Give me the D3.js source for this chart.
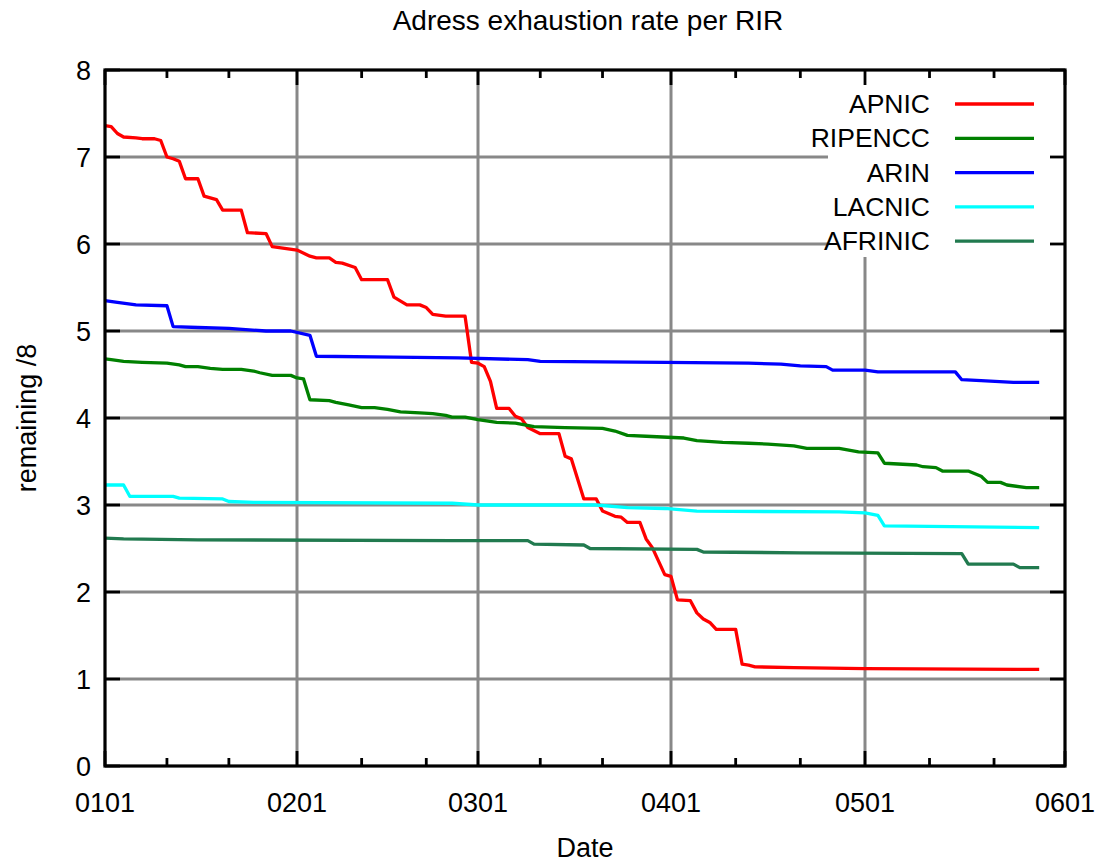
<!DOCTYPE html>
<html>
<head>
<meta charset="utf-8">
<script src="https://cdn.jsdelivr.net/npm/d3@7"></script>
<style>
  body { margin: 0; background: #fff; }
  text { font-family: "Liberation Sans", Arial, sans-serif; fill: #000; }
</style>
</head>
<body>
<div id="chart"></div>
<script>
// remaining /8 blocks per RIR (date MMDD, value)
var apnic = [
  ["0101",7.36],["0102",7.35],["0103",7.27],["0104",7.23],["0106",7.22],["0107",7.21],["0109",7.21],["0110",7.19],
  ["0111",7.00],["0112",6.98],["0113",6.95],["0114",6.75],["0116",6.75],["0117",6.55],["0119",6.51],["0120",6.39],
  ["0123",6.39],["0124",6.13],["0127",6.12],["0128",5.97],["0130",5.95],["0201",5.93],["0203",5.86],["0204",5.84],
  ["0206",5.84],["0207",5.79],["0208",5.78],["0210",5.73],["0211",5.59],["0215",5.59],["0216",5.39],["0218",5.30],
  ["0220",5.30],["0221",5.27],["0222",5.19],["0224",5.17],["0227",5.17],["0228",4.64],["0301",4.63],["0302",4.59],
  ["0303",4.42],["0304",4.11],["0306",4.11],["0307",4.02],["0308",3.99],["0309",3.89],["0311",3.82],["0314",3.82],
  ["0315",3.56],["0316",3.53],["0318",3.07],["0320",3.07],["0321",2.93],["0323",2.87],["0324",2.86],["0325",2.80],
  ["0327",2.80],["0328",2.61],["0329",2.51],["0331",2.20],["0401",2.18],["0402",1.91],["0404",1.90],["0405",1.76],
  ["0406",1.69],["0407",1.65],["0408",1.57],["0411",1.57],["0412",1.17],["0413",1.16],["0414",1.14],["0420",1.13],
  ["0501",1.12],["0528",1.11]
];
var ripencc = [
  ["0101",4.68],["0102",4.67],["0104",4.65],["0107",4.64],["0111",4.63],["0113",4.61],["0114",4.59],["0116",4.59],
  ["0118",4.57],["0120",4.56],["0123",4.56],["0125",4.54],["0126",4.52],["0128",4.49],["0131",4.49],["0201",4.46],
  ["0202",4.45],["0203",4.21],["0206",4.20],["0207",4.18],["0209",4.15],["0211",4.12],["0213",4.12],["0215",4.10],
  ["0217",4.07],["0220",4.06],["0222",4.05],["0224",4.03],["0225",4.01],["0227",4.01],["0301",3.98],["0304",3.95],
  ["0307",3.94],["0310",3.90],["0315",3.89],["0321",3.88],["0323",3.85],["0325",3.80],["0328",3.79],["0403",3.77],
  ["0405",3.74],["0409",3.72],["0413",3.71],["0416",3.70],["0420",3.68],["0422",3.65],["0427",3.65],["0430",3.61],
  ["0503",3.60],["0504",3.48],["0509",3.46],["0510",3.44],["0512",3.43],["0513",3.39],["0517",3.39],["0519",3.33],
  ["0520",3.26],["0522",3.26],["0523",3.23],["0526",3.20],["0528",3.20]
];
var arin = [
  ["0101",5.35],["0103",5.33],["0106",5.30],["0111",5.29],["0112",5.05],["0116",5.04],["0121",5.03],["0127",5.00],
  ["0131",5.00],["0203",4.95],["0204",4.71],["0216",4.70],["0226",4.69],["0309",4.67],["0311",4.65],["0331",4.64],
  ["0413",4.63],["0418",4.62],["0421",4.60],["0425",4.59],["0426",4.55],["0501",4.55],["0503",4.53],["0515",4.53],
  ["0516",4.44],["0519",4.43],["0524",4.41],["0528",4.41]
];
var lacnic = [
  ["0101",3.23],["0104",3.23],["0105",3.10],["0112",3.10],["0113",3.08],["0120",3.07],["0121",3.04],["0125",3.03],
  ["0225",3.02],["0301",3.00],["0320",3.00],["0325",2.97],["0331",2.96],["0405",2.93],["0427",2.92],["0501",2.91],
  ["0503",2.88],["0504",2.76],["0528",2.74]
];
var afrinic = [
  ["0101",2.62],["0104",2.61],["0116",2.60],["0225",2.59],["0309",2.59],["0310",2.55],["0318",2.54],["0319",2.50],
  ["0405",2.49],["0406",2.46],["0421",2.45],["0516",2.44],["0517",2.32],["0524",2.32],["0525",2.28],["0528",2.28]
];

var seriesNames = ["APNIC", "RIPENCC", "ARIN", "LACNIC", "AFRINIC"];
var seriesData = [apnic, ripencc, arin, lacnic, afrinic];
var seriesColors = ["#ff0000", "#008000", "#0000ff", "#00ffff", "#217a4f"];

var monthTicks = ["0101", "0201", "0301", "0401", "0501", "0601"];
var yTicks = [0, 1, 2, 3, 4, 5, 6, 7, 8];
var titleText = "Adress exhaustion rate per RIR";
var xLabel = "Date";
var yLabel = "remaining /8";

var parseDay = function(s) { return d3.timeParse("%Y%m%d")("2011" + s); };
var fmt = d3.timeFormat("%m%d");

var W = 1100, H = 864;
var plotL = 105, plotR = 1065, plotT = 70, plotB = 766;

var svg = d3.select("#chart").append("svg")
  .attr("width", W).attr("height", H);

svg.append("rect").attr("width", W).attr("height", H).attr("fill", "#fff");

var monthDates = monthTicks.map(parseDay);
// gnuplot places month ticks slightly unevenly, so use a piecewise time scale
var x = d3.scaleTime()
  .domain(monthDates)
  .range([plotL, 297, 478, 671, 865, plotR]);
var y = d3.scaleLinear().domain([0, 8]).range([plotB, plotT]);

// minor ticks: 11th and 21st of each month
var minorDates = [];
monthDates.slice(0, -1).forEach(function(d) {
  minorDates.push(d3.timeDay.offset(d, 10));
  minorDates.push(d3.timeDay.offset(d, 20));
});

// grid
var grid = svg.append("g").attr("stroke", "#888").attr("stroke-width", 3);
grid.selectAll(".vg").data(monthDates.slice(1, -1)).enter().append("line")
  .attr("x1", function(d) { return x(d); }).attr("x2", function(d) { return x(d); })
  .attr("y1", plotT).attr("y2", plotB);
grid.selectAll(".hg").data(yTicks.slice(1, -1)).enter().append("line")
  .attr("y1", function(d) { return y(d); }).attr("y2", function(d) { return y(d); })
  .attr("x1", plotL).attr("x2", plotR);

// key background hides the grid
svg.append("rect")
  .attr("x", 828).attr("y", plotT).attr("width", plotR - 828).attr("height", 257 - plotT)
  .attr("fill", "#fff");

// series
var line = d3.line()
  .x(function(d) { return x(parseDay(d[0])); })
  .y(function(d) { return y(d[1]); });

seriesData.forEach(function(s, i) {
  svg.append("path")
    .datum(s)
    .attr("d", line)
    .attr("fill", "none")
    .attr("stroke", seriesColors[i])
    .attr("stroke-width", 3.3)
    .attr("stroke-linejoin", "round");
});

// ticks (inward, mirrored)
var ticks = svg.append("g").attr("stroke", "#000").attr("stroke-width", 2.8);
var majorLen = 15, minorLen = 8;
ticks.selectAll(".xb").data(monthDates).enter().append("line")
  .attr("x1", function(d) { return x(d); }).attr("x2", function(d) { return x(d); })
  .attr("y1", plotB).attr("y2", plotB - majorLen);
ticks.selectAll(".xt").data(monthDates).enter().append("line")
  .attr("x1", function(d) { return x(d); }).attr("x2", function(d) { return x(d); })
  .attr("y1", plotT).attr("y2", plotT + majorLen);
ticks.selectAll(".mb").data(minorDates).enter().append("line")
  .attr("x1", function(d) { return x(d); }).attr("x2", function(d) { return x(d); })
  .attr("y1", plotB).attr("y2", plotB - minorLen);
ticks.selectAll(".mt").data(minorDates).enter().append("line")
  .attr("x1", function(d) { return x(d); }).attr("x2", function(d) { return x(d); })
  .attr("y1", plotT).attr("y2", plotT + minorLen);
ticks.selectAll(".yl").data(yTicks).enter().append("line")
  .attr("y1", function(d) { return y(d); }).attr("y2", function(d) { return y(d); })
  .attr("x1", plotL).attr("x2", plotL + majorLen);
ticks.selectAll(".yr").data(yTicks).enter().append("line")
  .attr("y1", function(d) { return y(d); }).attr("y2", function(d) { return y(d); })
  .attr("x1", plotR).attr("x2", plotR - majorLen);

// border
svg.append("rect")
  .attr("x", plotL).attr("y", plotT).attr("width", plotR - plotL).attr("height", plotB - plotT)
  .attr("fill", "none").attr("stroke", "#000").attr("stroke-width", 3.2);

// tick labels
var fs = 27;
svg.append("g").selectAll("text").data(monthDates).enter().append("text")
  .attr("x", function(d) { return x(d); })
  .attr("y", 812)
  .attr("text-anchor", "middle")
  .attr("font-size", fs)
  .text(function(d) { return fmt(d); });

svg.append("g").selectAll("text").data(yTicks).enter().append("text")
  .attr("x", 91)
  .attr("y", function(d) { return y(d) + 9.5; })
  .attr("text-anchor", "end")
  .attr("font-size", fs)
  .text(function(d) { return d; });

// titles
svg.append("text").attr("x", (plotL + plotR) / 2 + 3).attr("y", 30)
  .attr("text-anchor", "middle").attr("font-size", 28).text(titleText);
svg.append("text").attr("x", (plotL + plotR) / 2).attr("y", 857)
  .attr("text-anchor", "middle").attr("font-size", fs).text(xLabel);
svg.append("text")
  .attr("transform", "translate(36," + ((plotT + plotB) / 2) + ") rotate(-90)")
  .attr("text-anchor", "middle").attr("font-size", fs).text(yLabel);

// key
var key = svg.append("g");
seriesNames.forEach(function(name, i) {
  var ky = 104 + i * 34.3;
  key.append("text")
    .attr("x", 930).attr("y", ky + 9)
    .attr("text-anchor", "end")
    .attr("font-size", 26.5)
    .text(name);
  key.append("line")
    .attr("x1", 955).attr("x2", 1034)
    .attr("y1", ky).attr("y2", ky)
    .attr("stroke", seriesColors[i])
    .attr("stroke-width", 3.3);
});
</script>
</body>
</html>
